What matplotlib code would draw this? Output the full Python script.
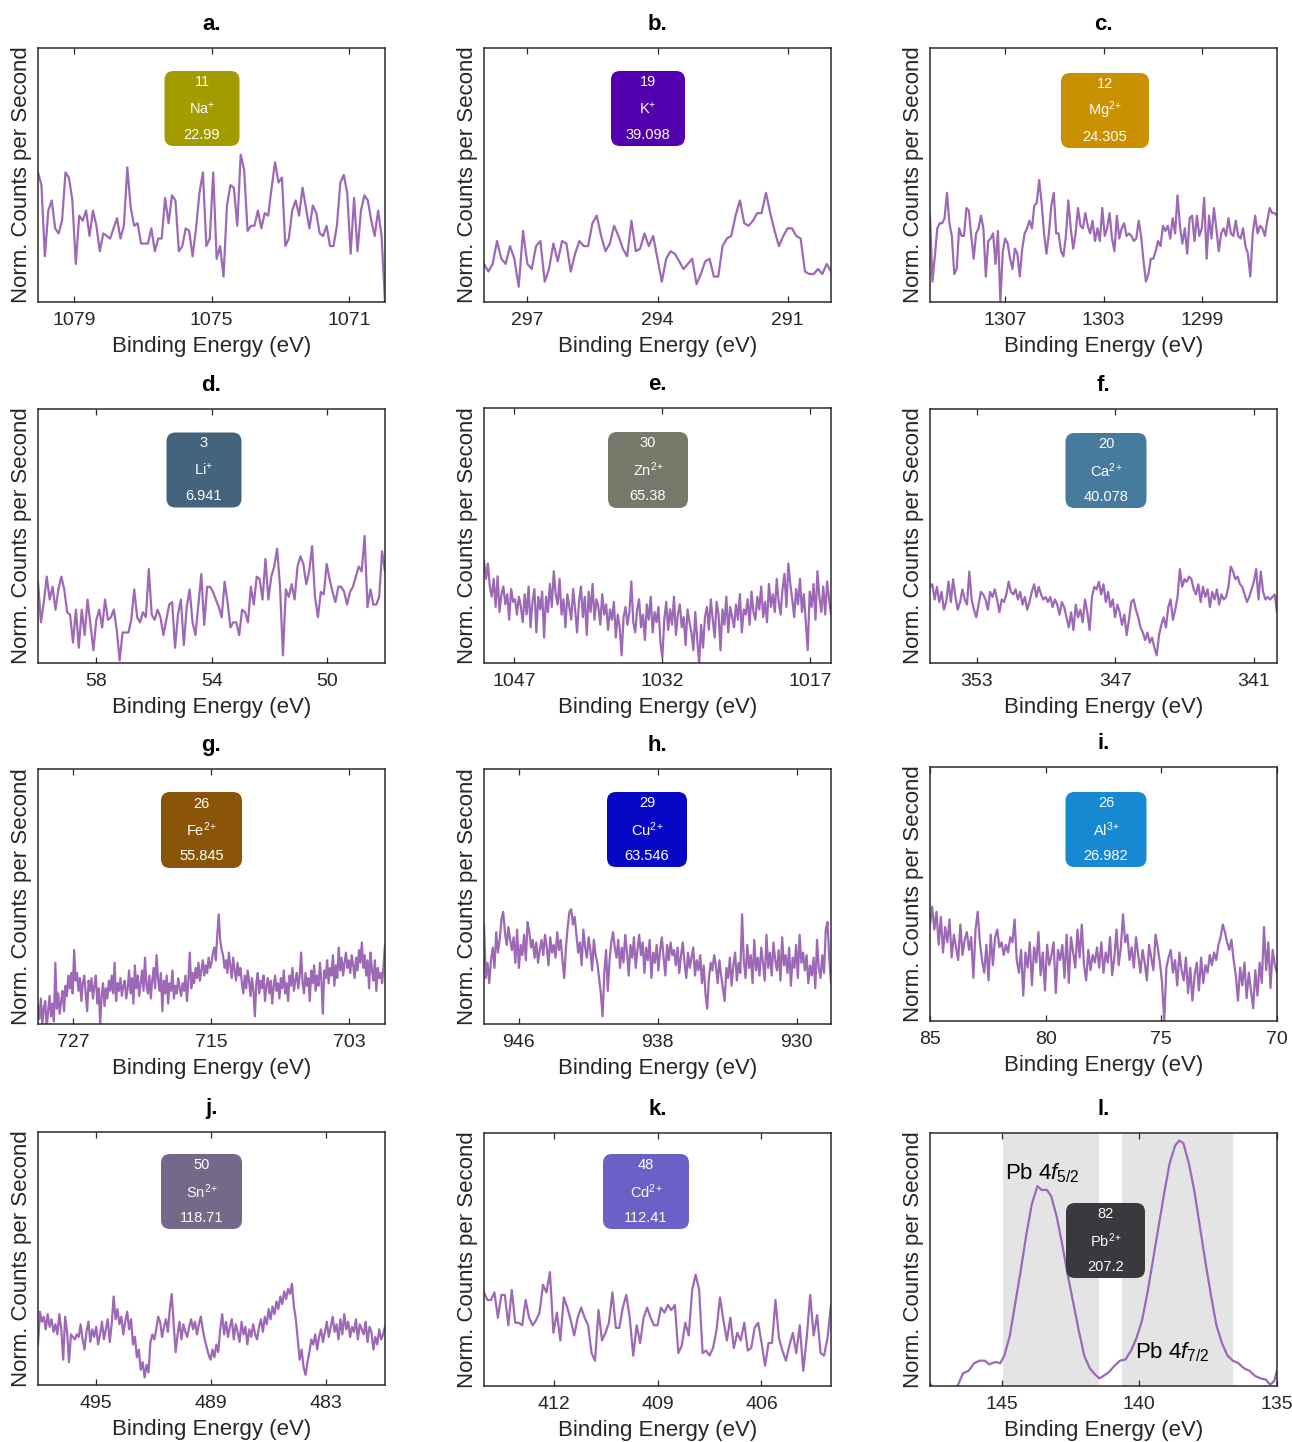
import numpy as np
import matplotlib
matplotlib.use('Agg')
import matplotlib.pyplot as plt
from matplotlib.patches import FancyBboxPatch

plt.rcParams['font.family'] = ['Liberation Sans', 'DejaVu Sans']
plt.rcParams['mathtext.fontset'] = 'custom'
plt.rcParams['mathtext.rm'] = 'Liberation Sans'
plt.rcParams['mathtext.it'] = 'Liberation Sans:italic'
plt.rcParams['mathtext.bf'] = 'Liberation Sans:bold'

# ---------------- data ----------------
panel_letters = ['a.', 'b.', 'c.', 'd.', 'e.', 'f.', 'g.', 'h.', 'i.', 'j.', 'k.', 'l.']
atomic_numbers = ['11', '19', '12', '3', '30', '20', '26', '29', '26', '50', '48', '82']
ion_labels = ['Na$^{+}$', 'K$^{+}$', 'Mg$^{2}$$^{+}$', 'Li$^{+}$', 'Zn$^{2}$$^{+}$', 'Ca$^{2}$$^{+}$',
              'Fe$^{2}$$^{+}$', 'Cu$^{2}$$^{+}$', 'Al$^{3}$$^{+}$', 'Sn$^{2}$$^{+}$', 'Cd$^{2}$$^{+}$',
              'Pb$^{2}$$^{+}$']
atomic_masses = ['22.99', '39.098', '24.305', '6.941', '65.38', '40.078',
                 '55.845', '63.546', '26.982', '118.71', '112.41', '207.2']
box_colors = ['#A39B00', '#5200AE', '#C99000', '#43647C', '#76786A', '#467B9E',
              '#8A5509', '#0707C6', '#1788D2', '#736989', '#6A60C6', '#3A393D']

# energy range (start, end) of each scan
energy_ranges = [(1080.05, 1069.95), (298.0, 290.0), (1310.05, 1295.95), (60.02, 48.0),
                 (1050.04, 1014.9), (355.02, 339.99), (730.04, 699.9), (948.0, 928.02),
                 (85.0, 70.0), (498.04, 479.92), (414.02, 403.99), (147.6, 135.0)]
tick_values = [[1079, 1075, 1071], [297, 294, 291], [1307, 1303, 1299], [58, 54, 50],
               [1047, 1032, 1017], [353, 347, 341], [727, 715, 703], [946, 938, 930],
               [85, 80, 75, 70], [495, 489, 483], [412, 409, 406], [145, 140, 135]]

na_counts = [0.51, 0.46, 0.18, 0.36, 0.40, 0.29, 0.27, 0.32, 0.51, 0.49, 0.40, 0.15, 0.34, 0.32,
             0.36, 0.26, 0.36, 0.30, 0.20, 0.27, 0.26, 0.25, 0.29, 0.33, 0.25, 0.30, 0.53, 0.37,
             0.30, 0.31, 0.23, 0.23, 0.23, 0.29, 0.20, 0.25, 0.25, 0.41, 0.31, 0.42, 0.40, 0.20,
             0.22, 0.29, 0.28, 0.18, 0.29, 0.43, 0.51, 0.22, 0.25, 0.51, 0.17, 0.22, 0.10, 0.38,
             0.46, 0.45, 0.30, 0.58, 0.52, 0.28, 0.30, 0.30, 0.36, 0.29, 0.35, 0.34, 0.45, 0.55,
             0.47, 0.49, 0.22, 0.25, 0.36, 0.40, 0.34, 0.45, 0.37, 0.29, 0.38, 0.35, 0.27, 0.26,
             0.30, 0.22, 0.22, 0.30, 0.47, 0.50, 0.43, 0.19, 0.41, 0.20, 0.36, 0.42, 0.40, 0.32,
             0.26, 0.36, 0.26, 0.0]

k_counts = [0.15, 0.12, 0.15, 0.24, 0.17, 0.15, 0.22, 0.17, 0.06, 0.28, 0.15, 0.13, 0.22, 0.24,
            0.08, 0.13, 0.23, 0.16, 0.24, 0.23, 0.12, 0.19, 0.24, 0.22, 0.22, 0.31, 0.34, 0.26,
            0.20, 0.23, 0.30, 0.26, 0.21, 0.18, 0.32, 0.20, 0.21, 0.27, 0.22, 0.26, 0.17, 0.08,
            0.17, 0.20, 0.19, 0.16, 0.13, 0.15, 0.17, 0.07, 0.11, 0.16, 0.17, 0.10, 0.10, 0.22,
            0.25, 0.26, 0.34, 0.40, 0.31, 0.30, 0.32, 0.35, 0.35, 0.43, 0.35, 0.28, 0.22, 0.26,
            0.29, 0.29, 0.26, 0.25, 0.12, 0.11, 0.11, 0.13, 0.11, 0.15, 0.12]

mg_counts = [0.34, 0.08, 0.18, 0.29, 0.31, 0.31, 0.33, 0.43, 0.31, 0.26, 0.11, 0.13, 0.29, 0.26,
             0.26, 0.37, 0.36, 0.26, 0.17, 0.27, 0.29, 0.34, 0.29, 0.10, 0.24, 0.25, 0.27, 0.15,
             0.28, 0.00, 0.20, 0.25, 0.23, 0.17, 0.13, 0.21, 0.19, 0.10, 0.21, 0.27, 0.29, 0.32,
             0.29, 0.38, 0.39, 0.48, 0.39, 0.27, 0.19, 0.27, 0.38, 0.43, 0.27, 0.27, 0.20, 0.18,
             0.26, 0.40, 0.29, 0.21, 0.27, 0.37, 0.30, 0.29, 0.35, 0.30, 0.27, 0.32, 0.24, 0.29,
             0.24, 0.37, 0.26, 0.29, 0.35, 0.25, 0.20, 0.34, 0.25, 0.29, 0.31, 0.26, 0.27, 0.26,
             0.24, 0.25, 0.32, 0.26, 0.16, 0.08, 0.11, 0.17, 0.17, 0.20, 0.24, 0.22, 0.30, 0.28,
             0.30, 0.25, 0.33, 0.27, 0.42, 0.30, 0.23, 0.29, 0.19, 0.33, 0.34, 0.24, 0.34, 0.26,
             0.29, 0.41, 0.17, 0.34, 0.25, 0.37, 0.29, 0.20, 0.27, 0.29, 0.26, 0.33, 0.27, 0.26,
             0.32, 0.26, 0.25, 0.29, 0.22, 0.19, 0.10, 0.27, 0.34, 0.27, 0.30, 0.29, 0.26, 0.32,
             0.37, 0.35, 0.35, 0.34]

li_counts = [0.32, 0.16, 0.24, 0.34, 0.25, 0.30, 0.21, 0.29, 0.34, 0.29, 0.20, 0.19, 0.08, 0.21,
             0.06, 0.21, 0.11, 0.25, 0.15, 0.05, 0.17, 0.21, 0.14, 0.25, 0.17, 0.18, 0.21, 0.13,
             0.01, 0.12, 0.12, 0.12, 0.17, 0.29, 0.18, 0.16, 0.20, 0.18, 0.37, 0.19, 0.17, 0.21,
             0.18, 0.11, 0.17, 0.23, 0.24, 0.06, 0.19, 0.25, 0.07, 0.22, 0.29, 0.16, 0.11, 0.23,
             0.35, 0.15, 0.30, 0.30, 0.28, 0.25, 0.22, 0.18, 0.32, 0.24, 0.14, 0.16, 0.16, 0.11,
             0.21, 0.20, 0.16, 0.30, 0.23, 0.34, 0.33, 0.25, 0.41, 0.25, 0.34, 0.38, 0.45, 0.30,
             0.03, 0.29, 0.26, 0.31, 0.25, 0.38, 0.42, 0.39, 0.31, 0.36, 0.46, 0.26, 0.18, 0.28,
             0.27, 0.39, 0.33, 0.28, 0.24, 0.30, 0.30, 0.28, 0.23, 0.28, 0.30, 0.34, 0.38, 0.36,
             0.50, 0.22, 0.29, 0.23, 0.23, 0.26, 0.44, 0.36]

zn_counts = [0.40, 0.33, 0.39, 0.30, 0.26, 0.33, 0.22, 0.34, 0.20, 0.27,
             0.30, 0.23, 0.27, 0.17, 0.29, 0.24, 0.25, 0.19, 0.26, 0.22,
             0.16, 0.27, 0.19, 0.30, 0.14, 0.24, 0.29, 0.12, 0.26, 0.21,
             0.28, 0.10, 0.26, 0.20, 0.31, 0.22, 0.36, 0.27, 0.23, 0.33,
             0.19, 0.25, 0.14, 0.27, 0.22, 0.17, 0.29, 0.21, 0.12, 0.24,
             0.30, 0.18, 0.26, 0.11, 0.28, 0.20, 0.31, 0.17, 0.25, 0.22,
             0.15, 0.27, 0.19, 0.23, 0.13, 0.21, 0.17, 0.24, 0.10, 0.19,
             0.14, 0.03, 0.18, 0.22, 0.15, 0.20, 0.32, 0.16, 0.12, 0.21,
             0.25, 0.14, 0.19, 0.09, 0.23, 0.17, 0.26, 0.12, 0.20, 0.16,
             0.22, 0.08, 0.02, 0.17, 0.24, 0.13, 0.21, 0.15, 0.26, 0.11,
             0.19, 0.23, 0.14, 0.18, 0.07, 0.21, 0.16, 0.12, 0.05, 0.20,
             0.09, 0.00, 0.15, 0.06, 0.18, 0.22, 0.13, 0.25, 0.17, 0.10,
             0.24, 0.19, 0.05, 0.21, 0.15, 0.26, 0.12, 0.22, 0.18, 0.14,
             0.23, 0.17, 0.27, 0.12, 0.21, 0.19, 0.25, 0.15, 0.28, 0.20,
             0.17, 0.26, 0.21, 0.30, 0.18, 0.24, 0.16, 0.31, 0.22, 0.27,
             0.20, 0.33, 0.24, 0.19, 0.29, 0.35, 0.22, 0.39, 0.31, 0.25,
             0.18, 0.29, 0.23, 0.33, 0.20, 0.27, 0.16, 0.05, 0.28, 0.22,
             0.31, 0.17, 0.36, 0.26, 0.20, 0.30, 0.19, 0.32, 0.25, 0.19]

ca_counts = [0.30, 0.31, 0.25, 0.30, 0.24, 0.28, 0.21, 0.24, 0.32, 0.24,
             0.33, 0.26, 0.21, 0.24, 0.29, 0.25, 0.23, 0.36, 0.25, 0.21,
             0.18, 0.23, 0.28, 0.27, 0.25, 0.21, 0.28, 0.26, 0.29, 0.25,
             0.20, 0.25, 0.24, 0.27, 0.32, 0.28, 0.27, 0.29, 0.25, 0.28,
             0.23, 0.26, 0.21, 0.24, 0.28, 0.31, 0.26, 0.30, 0.27, 0.25,
             0.26, 0.24, 0.26, 0.22, 0.25, 0.23, 0.19, 0.24, 0.22, 0.18,
             0.14, 0.20, 0.13, 0.23, 0.18, 0.21, 0.16, 0.25, 0.20, 0.13,
             0.26, 0.30, 0.29, 0.32, 0.27, 0.31, 0.24, 0.28, 0.22, 0.25,
             0.18, 0.23, 0.20, 0.15, 0.19, 0.11, 0.17, 0.24, 0.25, 0.21,
             0.18, 0.14, 0.12, 0.09, 0.12, 0.08, 0.10, 0.06, 0.03, 0.11,
             0.15, 0.18, 0.14, 0.22, 0.25, 0.17, 0.21, 0.26, 0.37, 0.30,
             0.33, 0.32, 0.34, 0.33, 0.29, 0.27, 0.31, 0.24, 0.30, 0.26,
             0.29, 0.22, 0.28, 0.25, 0.29, 0.23, 0.27, 0.25, 0.26, 0.30,
             0.38, 0.36, 0.33, 0.34, 0.31, 0.30, 0.27, 0.24, 0.26, 0.29,
             0.32, 0.37, 0.25, 0.36, 0.28, 0.25, 0.26, 0.25, 0.26, 0.27,
             0.20]

fe_counts = [0.07, 0.02, 0.10, 0.00, 0.06, 0.09, -0.02, 0.05, 0.11, 0.03, 0.08, 0.01, 0.24, 0.06, 0.12, 0.04, 0.09, 0.13, 0.05, 0.15,
             0.11, 0.19, 0.14, 0.20, 0.12, 0.29, 0.17, 0.20, 0.13, 0.18, 0.09, 0.16, 0.19, 0.12, 0.05, 0.17, 0.13, 0.18, 0.10, 0.15,
             0.19, 0.08, 0.14, 0.00, 0.11, 0.16, 0.07, 0.14, 0.10, 0.17, 0.13, 0.19, 0.12, 0.24, 0.09, 0.16, 0.13, 0.18, 0.11, 0.15,
             0.17, 0.10, 0.14, 0.21, 0.12, 0.18, 0.08, 0.23, 0.14, 0.19, 0.11, 0.16, 0.21, 0.13, 0.26, 0.15, 0.12, 0.19, 0.10, 0.17,
             0.22, 0.14, 0.27, 0.18, 0.13, 0.20, 0.05, 0.17, 0.12, 0.19, 0.08, 0.16, 0.13, 0.21, 0.10, 0.15, 0.12, 0.18, 0.14, 0.11,
             0.16, 0.13, 0.19, 0.09, 0.17, 0.28, 0.14, 0.20, 0.16, 0.22, 0.18, 0.24, 0.17, 0.21, 0.25, 0.19, 0.23, 0.20, 0.26, 0.22,
             0.24, 0.28, 0.30, 0.25, 0.35, 0.43, 0.33, 0.29, 0.27, 0.22, 0.25, 0.20, 0.28, 0.23, 0.18, 0.26, 0.21, 0.17, 0.24, 0.19,
             0.22, 0.16, 0.12, 0.19, 0.14, 0.21, 0.17, 0.11, 0.18, 0.13, 0.03, 0.16, 0.20, 0.12, 0.17, 0.14, 0.19, 0.09, 0.15, 0.18,
             0.12, 0.17, 0.08, 0.15, 0.19, 0.13, 0.16, 0.10, 0.18, 0.14, 0.21, 0.12, 0.16, 0.09, 0.19, 0.15, 0.22, 0.13, 0.17, 0.20,
             0.14, 0.19, 0.28, 0.16, 0.12, 0.20, 0.15, 0.18, 0.09, 0.21, 0.16, 0.23, 0.13, 0.19, 0.15, 0.24, 0.17, 0.04, 0.21, 0.18,
             0.25, 0.16, 0.22, 0.19, 0.27, 0.15, 0.23, 0.18, 0.30, 0.21, 0.26, 0.19, 0.24, 0.28, 0.22, 0.25, 0.20, 0.27, 0.23, 0.18,
             0.26, 0.21, 0.29, 0.24, 0.32, 0.22, 0.27, 0.19, 0.25, 0.14, 0.28, 0.21, 0.17, 0.25, 0.13, 0.22, 0.18, 0.20, 0.16, 0.23,
             0.31]

cu_counts = [0.39, 0.18, 0.24, 0.16, 0.25, 0.30, 0.22, 0.36, 0.28, 0.33,
             0.41, 0.44, 0.36, 0.31, 0.38, 0.33, 0.29, 0.34, 0.24, 0.37,
             0.22, 0.31, 0.27, 0.35, 0.25, 0.40, 0.36, 0.30, 0.33, 0.26,
             0.32, 0.24, 0.29, 0.33, 0.27, 0.35, 0.30, 0.23, 0.34, 0.28,
             0.31, 0.26, 0.36, 0.29, 0.33, 0.25, 0.18, 0.30, 0.38, 0.44,
             0.45, 0.39, 0.42, 0.35, 0.28, 0.32, 0.23, 0.37, 0.30, 0.26,
             0.34, 0.29, 0.21, 0.33, 0.27, 0.24, 0.18, 0.12, 0.03, 0.20,
             0.29, 0.13, 0.25, 0.32, 0.36, 0.30, 0.26, 0.33, 0.22, 0.30,
             0.24, 0.35, 0.28, 0.19, 0.31, 0.26, 0.34, 0.22, 0.29, 0.35,
             0.27, 0.32, 0.20, 0.30, 0.25, 0.33, 0.18, 0.28, 0.24, 0.31,
             0.21, 0.29, 0.34, 0.26, 0.19, 0.31, 0.25, 0.32, 0.27, 0.29,
             0.23, 0.30, 0.20, 0.27, 0.32, 0.24, 0.18, 0.28, 0.22, 0.26,
             0.30, 0.19, 0.25, 0.21, 0.27, 0.16, 0.23, 0.12, 0.06, 0.18,
             0.24, 0.21, 0.27, 0.23, 0.16, 0.25, 0.19, 0.14, 0.09, 0.22,
             0.18, 0.26, 0.15, 0.23, 0.28, 0.17, 0.24, 0.20, 0.43, 0.25,
             0.18, 0.31, 0.22, 0.27, 0.16, 0.33, 0.21, 0.26, 0.19, 0.30,
             0.24, 0.17, 0.35, 0.22, 0.28, 0.19, 0.32, 0.25, 0.21, 0.29,
             0.17, 0.34, 0.23, 0.27, 0.20, 0.30, 0.15, 0.26, 0.22, 0.31,
             0.18, 0.35, 0.24, 0.28, 0.21, 0.27, 0.16, 0.23, 0.19, 0.26,
             0.14, 0.33, 0.22, 0.18, 0.27, 0.20, 0.37, 0.40, 0.26, 0.16]

al_counts = [0.38, 0.45, 0.36, 0.43, 0.30, 0.41, 0.27, 0.37, 0.31, 0.40,
             0.25, 0.34, 0.29, 0.24, 0.38, 0.26, 0.32, 0.35, 0.28, 0.33,
             0.17, 0.36, 0.43, 0.31, 0.24, 0.19, 0.30, 0.16, 0.34, 0.22,
             0.33, 0.36, 0.29, 0.31, 0.26, 0.30, 0.27, 0.33, 0.31, 0.40,
             0.24, 0.19, 0.28, 0.10, 0.27, 0.21, 0.31, 0.14, 0.29, 0.23,
             0.35, 0.18, 0.27, 0.12, 0.30, 0.22, 0.26, 0.31, 0.11, 0.28,
             0.24, 0.30, 0.17, 0.34, 0.15, 0.33, 0.27, 0.21, 0.36, 0.25,
             0.38, 0.22, 0.16, 0.28, 0.20, 0.26, 0.23, 0.29, 0.21, 0.31,
             0.19, 0.27, 0.23, 0.33, 0.18, 0.25, 0.36, 0.22, 0.29, 0.42,
             0.31, 0.34, 0.24, 0.29, 0.21, 0.33, 0.26, 0.19, 0.28, 0.23,
             0.16, 0.30, 0.25, 0.20, 0.34, 0.29, 0.23, 0.15, 0.00, 0.21,
             0.25, 0.28, 0.19, 0.24, 0.14, 0.27, 0.20, 0.16, 0.25, 0.11,
             0.21, 0.08, 0.18, 0.23, 0.12, 0.25, 0.15, 0.22, 0.19, 0.26,
             0.22, 0.27, 0.24, 0.30, 0.33, 0.38, 0.35, 0.31, 0.28, 0.32,
             0.24, 0.18, 0.08, 0.21, 0.14, 0.23, 0.09, 0.19, 0.12, 0.05,
             0.20, 0.10, 0.23, 0.15, 0.37, 0.20, 0.31, 0.13, 0.28, 0.22,
             0.19]

sn_counts = [0.16, 0.29, 0.25, 0.27, 0.22, 0.28, 0.23, 0.26, 0.21, 0.24,
             0.20, 0.28, 0.22, 0.10, 0.27, 0.21, 0.09, 0.20, 0.19, 0.18,
             0.20, 0.19, 0.24, 0.18, 0.14, 0.21, 0.25, 0.17, 0.22, 0.19,
             0.23, 0.16, 0.20, 0.25, 0.18, 0.22, 0.26, 0.17, 0.24, 0.35,
             0.26, 0.30, 0.24, 0.27, 0.20, 0.25, 0.29, 0.22, 0.26, 0.16,
             0.19, 0.11, 0.14, 0.06, 0.09, 0.03, 0.08, 0.05, 0.17, 0.20,
             0.18, 0.22, 0.27, 0.25, 0.19, 0.23, 0.26, 0.21, 0.30, 0.36,
             0.24, 0.13, 0.20, 0.25, 0.18, 0.24, 0.21, 0.19, 0.23, 0.26,
             0.22, 0.25, 0.20, 0.24, 0.27, 0.22, 0.18, 0.15, 0.12, 0.10,
             0.14, 0.11, 0.16, 0.13, 0.22, 0.28, 0.20, 0.25, 0.19, 0.23,
             0.26, 0.18, 0.24, 0.21, 0.17, 0.25, 0.20, 0.23, 0.16, 0.22,
             0.19, 0.24, 0.20, 0.18, 0.23, 0.26, 0.21, 0.27, 0.24, 0.30,
             0.26, 0.31, 0.28, 0.33, 0.30, 0.35, 0.32, 0.37, 0.34, 0.38,
             0.36, 0.40, 0.31, 0.26, 0.18, 0.10, 0.14, 0.07, 0.04, 0.09,
             0.13, 0.18, 0.16, 0.20, 0.14, 0.19, 0.22, 0.17, 0.21, 0.25,
             0.19, 0.23, 0.27, 0.21, 0.24, 0.18, 0.26, 0.20, 0.28, 0.22,
             0.25, 0.19, 0.23, 0.21, 0.26, 0.18, 0.24, 0.22, 0.20, 0.25,
             0.17, 0.23, 0.21, 0.14, 0.19, 0.16, 0.22, 0.18, 0.20, 0.23]

cd_counts = [0.37, 0.34, 0.34, 0.37, 0.27, 0.36, 0.36, 0.24, 0.38, 0.25, 0.25, 0.24, 0.34, 0.27,
             0.24, 0.26, 0.29, 0.40, 0.37, 0.45, 0.21, 0.29, 0.18, 0.35, 0.31, 0.26, 0.20, 0.27,
             0.31, 0.27, 0.24, 0.13, 0.10, 0.30, 0.18, 0.21, 0.25, 0.37, 0.23, 0.23, 0.31, 0.36,
             0.27, 0.12, 0.24, 0.17, 0.27, 0.31, 0.27, 0.24, 0.24, 0.31, 0.29, 0.32, 0.30, 0.32,
             0.13, 0.16, 0.25, 0.20, 0.38, 0.44, 0.38, 0.13, 0.14, 0.12, 0.15, 0.22, 0.35, 0.26,
             0.18, 0.27, 0.15, 0.21, 0.18, 0.25, 0.14, 0.15, 0.23, 0.25, 0.17, 0.08, 0.17, 0.17,
             0.34, 0.19, 0.14, 0.10, 0.16, 0.21, 0.13, 0.24, 0.06, 0.19, 0.36, 0.20, 0.28, 0.13,
             0.12, 0.19, 0.32]

pb_energy = [147.6, 147.4, 147.0, 146.6, 146.4, 146.2, 146.0, 145.8, 145.6, 145.45, 145.35,
             145.2, 145.05, 144.9, 144.7, 144.5, 144.3, 144.1, 143.9, 143.7, 143.55, 143.35,
             143.2, 143.0, 142.8, 142.6, 142.4, 142.2, 142.0, 141.8, 141.6, 141.45, 141.3,
             141.1, 140.9, 140.7, 140.5, 140.3, 140.1, 139.9, 139.7, 139.5, 139.3, 139.1,
             138.9, 138.7, 138.55, 138.4, 138.2, 138.0, 137.8, 137.6, 137.4, 137.2, 137.0,
             136.8, 136.6, 136.4, 136.2, 136.0, 135.8, 135.6, 135.4, 135.25, 135.1, 135.0]
pb_counts = [0.01, -0.02, -0.03, 0.0, 0.05, 0.06, 0.09, 0.10, 0.10, 0.085, 0.09,
             0.095, 0.09, 0.12, 0.20, 0.33, 0.46, 0.60, 0.72, 0.79, 0.775, 0.775,
             0.75, 0.67, 0.56, 0.44, 0.33, 0.22, 0.12, 0.07, 0.045, 0.03, 0.04,
             0.055, 0.08, 0.10, 0.105, 0.14, 0.19, 0.26, 0.37, 0.50, 0.63, 0.76,
             0.88, 0.95, 0.97, 0.96, 0.88, 0.77, 0.63, 0.49, 0.36, 0.24, 0.17,
             0.12, 0.10, 0.09, 0.07, 0.06, 0.04, 0.03, 0.025, 0.005, 0.02, 0.06]
pb_bands = [(144.95, 141.47), (140.63, 136.58)]
pb_peak_labels = [r'Pb $\mathit{4f}_{\mathit{5/2}}$', r'Pb $\mathit{4f}_{\mathit{7/2}}$']
pb_label_pos = [(144.87, 0.815), (140.15, 0.11)]

series = [na_counts, k_counts, mg_counts, li_counts, zn_counts, ca_counts,
          fe_counts, cu_counts, al_counts, sn_counts, cd_counts, pb_counts]

# ---------------- layout (pixels) ----------------
W, H = 1292, 1442
axes_px = [(38, 48, 347, 254), (484, 48, 347, 254), (930, 48, 347, 254),
           (38, 409, 347, 254), (484, 408, 347, 255), (930, 409, 347, 254),
           (38, 769, 347, 255), (484, 769, 347, 255), (930, 767, 347, 254),
           (38, 1132, 347, 253), (484, 1133, 347, 253), (930, 1133, 347, 253)]
box_px = [(202, 108.5, 75, 75), (648, 108.5, 74, 75), (1105, 110.5, 88, 75),
          (204, 470, 75, 75), (648, 470, 80, 76), (1106, 470.5, 81, 75),
          (201.5, 830, 81, 76), (647, 829.5, 80, 75), (1106, 829.5, 81, 75),
          (201.5, 1191.5, 81, 75), (646, 1191.5, 86, 75), (1105.5, 1240.5, 79, 75)]

line_color = '#9D69B6'
frame_color = '#2b2b2b'

fig = plt.figure(figsize=(W / 100, H / 100), dpi=100)

for idx in range(12):
    lx, ty, w, h = axes_px[idx]
    ax = fig.add_axes([lx / W, 1 - (ty + h) / H, w / W, h / H])
    if idx == 11:
        x = np.array(pb_energy)
        for b0, b1 in pb_bands:
            ax.axvspan(b0, b1, color='#e4e4e4', lw=0, zorder=0)
    else:
        x = np.linspace(energy_ranges[idx][0], energy_ranges[idx][1], len(series[idx]))
    ax.plot(x, series[idx], color=line_color, lw=1.6, zorder=2)
    ax.set_xlim(energy_ranges[idx][0], energy_ranges[idx][1])
    ax.set_ylim(0, 1)
    ax.set_xticks(tick_values[idx])
    ax.set_xticklabels([str(t) for t in tick_values[idx]])
    ax.set_yticks([])
    ax.tick_params(axis='x', direction='in', top=True, bottom=True, length=4,
                   width=0.9, color=frame_color, labelsize=14, labelcolor='#262626', pad=7)
    for sp in ax.spines.values():
        sp.set_color(frame_color)
        sp.set_linewidth(1.1)
    ax.set_xlabel('Binding Energy (eV)', fontsize=16, color='#262626', labelpad=5)
    ax.set_ylabel('Norm. Counts per Second', fontsize=16, color='#262626', labelpad=4)
    ax.set_title(panel_letters[idx], fontsize=16, fontweight='bold', pad=13)
    if idx == 11:
        for lab, (px, py) in zip(pb_peak_labels, pb_label_pos):
            ax.text(px, py, lab, fontsize=16, ha='left', va='baseline', zorder=3)

    # element tile
    cx, cy, bw, bh = box_px[idx]
    cxi, cyi = cx / 100, (H - cy) / 100
    bwi, bhi = bw / 100, bh / 100
    patch = FancyBboxPatch((cxi - bwi / 2, cyi - bhi / 2), bwi, bhi,
                           boxstyle='round,pad=0,rounding_size=0.09',
                           transform=fig.dpi_scale_trans, facecolor=box_colors[idx],
                           edgecolor='none', zorder=5)
    fig.add_artist(patch)
    for k, txt in enumerate([atomic_numbers[idx], ion_labels[idx], atomic_masses[idx]]):
        fig.text(cxi, cyi + (1 - k) * 0.265, txt, transform=fig.dpi_scale_trans,
                 ha='center', va='center', color='white', fontsize=10.5, zorder=6)

fig.savefig('out.png', dpi=100)
